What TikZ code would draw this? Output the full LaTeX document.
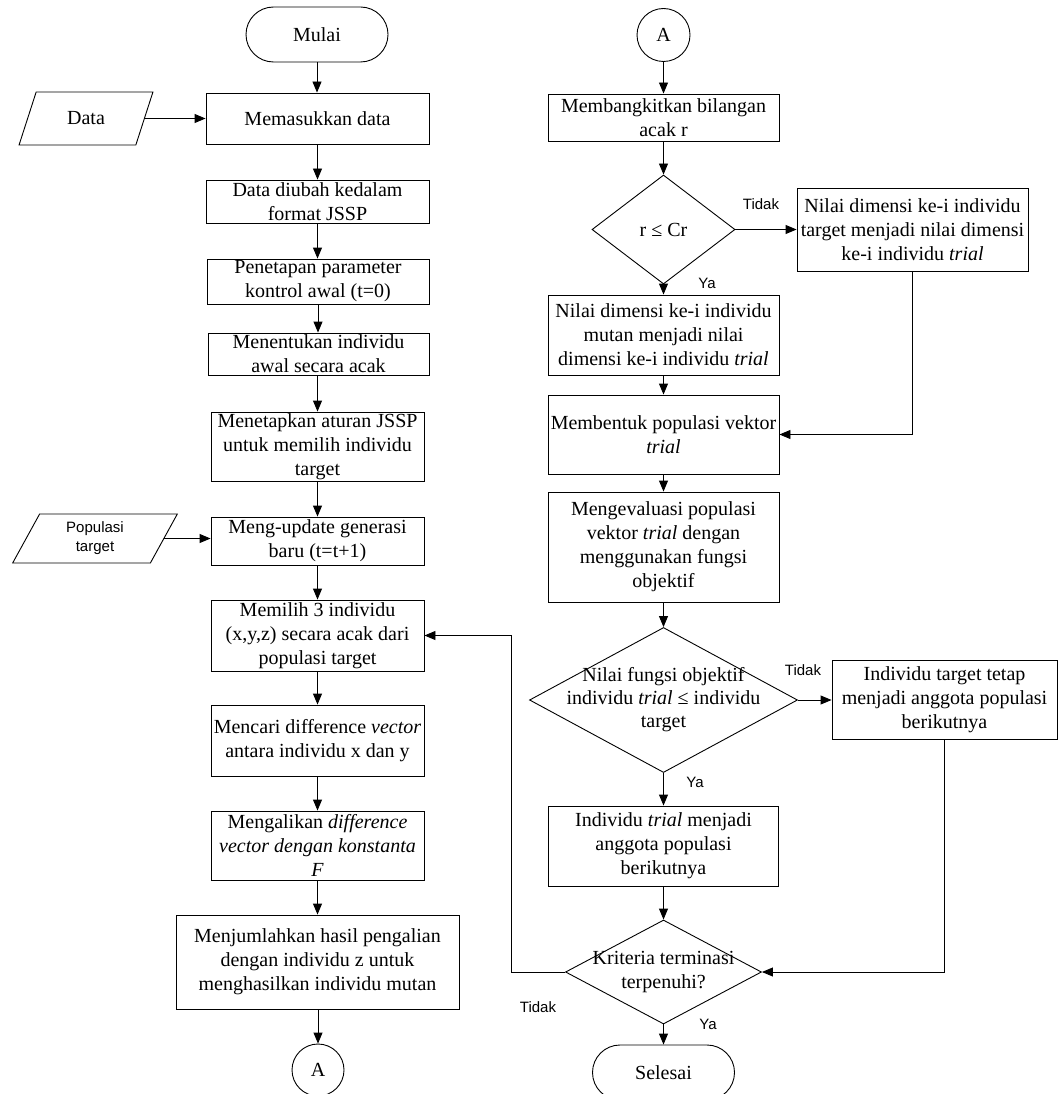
\documentclass[tikz,border=0pt]{standalone}
\usepackage{fontspec}
\setmainfont{Liberation Serif}
\newfontfamily\lsans{Liberation Sans}
\usetikzlibrary{arrows.meta,shapes.geometric,shapes.misc}
\begin{document}
\begin{tikzpicture}[x=1pt,y=-1pt,
  every node/.style={font=\fontsize{20}{24}\selectfont},
  box/.style={draw,rectangle,line width=0.9pt,inner sep=0pt,align=center},
  term/.style={draw,rounded rectangle,line width=0.9pt,inner sep=0pt,minimum width=142pt,minimum height=55pt},
  conn/.style={draw,circle,line width=0.9pt,inner sep=0pt,minimum size=52pt},
  dia/.style={draw,diamond,line width=0.9pt,inner sep=0pt},
  para/.style={draw,trapezium,trapezium stretches=true,line width=0.9pt,inner sep=0pt,align=center},
  lbl/.style={font=\lsans\fontsize{15}{18}\selectfont,inner sep=0pt},
  arr/.style={line width=0.9pt,-{Triangle[length=11pt,width=9pt]}},
  ln/.style={line width=0.9pt}]
\useasboundingbox (0,0) rectangle (1059,1094);

% ---------- left column ----------
\node[term] (mulai) at (317,34.5) {Mulai};
\node[box,minimum width=223pt,minimum height=51pt] (mem) at (317.5,118.5) {Memasukkan data};
\node[para,trapezium left angle=64,trapezium right angle=116,minimum width=134pt,minimum height=53pt] (data) at (86,118.5) {Data};
\node[box,minimum width=223pt,minimum height=43pt] (diubah) at (317.5,201.5) {Data diubah kedalam\\format JSSP};
\node[box,minimum width=222pt,minimum height=45pt] (penet) at (318,281.5) {Penetapan parameter\\kontrol awal (t=0)};
\node[box,minimum width=221pt,minimum height=42pt] (menent) at (318.5,354) {Menentukan individu\\awal secara acak};
\node[box,minimum width=213pt,minimum height=69pt] (menetap) at (317.5,446.5) {Menetapkan aturan JSSP\\untuk memilih individu\\target};
\node[box,minimum width=213pt,minimum height=48pt] (update) at (317.5,541) {Meng-update generasi\\baru (t=t+1)};
\node[para,trapezium left angle=67,trapezium right angle=113,minimum width=166pt,minimum height=49pt,font=\lsans\fontsize{15}{19}\selectfont] (pop) at (95,538.5) {Populasi\\target};
\node[box,minimum width=213pt,minimum height=71pt] (memilih) at (317.5,635.5) {Memilih 3 individu\\(x,y,z) secara acak dari\\populasi target};
\node[box,minimum width=213pt,minimum height=71pt] (mencari) at (317.5,740.5) {Mencari difference \textit{vector}\\antara individu x dan y};
\node[box,minimum width=213pt,minimum height=69pt] (mengali) at (317.5,845.5) {Mengalikan \textit{difference}\\\textit{vector dengan konstanta}\\\textit{F}};
\node[box,minimum width=283pt,minimum height=94pt] (menjum) at (317.5,962) {Menjumlahkan hasil pengalian\\dengan individu z untuk\\menghasilkan individu mutan};
\node[conn] (a1) at (318,1070) {A};

% ---------- right column ----------
\node[conn,minimum size=53pt] (a2) at (663.5,35) {A};
\node[box,minimum width=231pt,minimum height=47pt] (bangkit) at (663.5,117.5) {Membangkitkan bilangan\\acak r};
\node[dia,minimum width=143pt,minimum height=109pt] (d1) at (663.5,229.5) {};
\node[inner sep=0pt] (d1t) at (d1) {r ≤ Cr};
\node[box,minimum width=231pt,minimum height=83pt] (nilaiT) at (912.5,229.5) {Nilai dimensi ke-i individu\\target menjadi nilai dimensi\\ke-i individu \textit{trial}};
\node[box,minimum width=231pt,minimum height=80pt] (nilaiM) at (663.5,335) {Nilai dimensi ke-i individu\\mutan menjadi nilai\\dimensi ke-i individu \textit{trial}};
\node[box,minimum width=231pt,minimum height=79pt] (bentuk) at (663.5,434.5) {Membentuk populasi vektor\\\textit{trial}};
\node[box,minimum width=231pt,minimum height=110pt] (evaluasi) at (663.5,547) {Mengevaluasi populasi\\vektor \textit{trial} dengan\\menggunakan fungsi\\objektif};
\node[dia,minimum width=268pt,minimum height=145pt] (d2) at (663.5,700) {};
\node[inner sep=0pt,align=center,font=\fontsize{20}{23}\selectfont] (d2t) at (d2) {Nilai fungsi objektif\\individu \textit{trial} ≤ individu\\target};
\node[box,minimum width=225pt,minimum height=79pt] (tetap) at (944.5,699.5) {Individu target tetap\\menjadi anggota populasi\\berikutnya};
\node[box,minimum width=230pt,minimum height=80pt] (trialbox) at (663.5,846) {Individu \textit{trial} menjadi\\anggota populasi\\berikutnya};
\node[dia,minimum width=196pt,minimum height=104pt] (d3) at (663.5,972) {};
\node[inner sep=0pt,align=center] (d3t) at (d3) {Kriteria terminasi\\terpenuhi?};
\node[term] (selesai) at (663.5,1072.5) {Selesai};

% ---------- labels ----------
\node[lbl] (t1) at (761,204) {Tidak};
\node[lbl] (y1) at (707,283) {Ya};
\node[lbl] (t2) at (803,670) {Tidak};
\node[lbl] (y2) at (695,782) {Ya};
\node[lbl] (t3) at (538,1007) {Tidak};
\node[lbl] (y3) at (708,1024) {Ya};

% ---------- connectors left ----------
\draw[arr] (mulai.south) -- (mulai.south |- mem.north);
\draw[arr] (data.east) -- (mem.west);
\draw[arr] (mem.south) -- (mem.south |- diubah.north);
\draw[arr] (diubah.south) -- (diubah.south |- penet.north);
\draw[arr] (penet.south) -- (penet.south |- menent.north);
\draw[arr] (menent.south -| menetap.north) -- (menetap.north);
\draw[arr] (menetap.south) -- (update.north);
\draw[arr] (pop.east) -- (pop.east -| update.west);
\draw[arr] (update.south) -- (memilih.north);
\draw[arr] (memilih.south) -- (mencari.north);
\draw[arr] (mencari.south) -- (mengali.north);
\draw[arr] (mengali.south) -- (menjum.north);
\draw[arr] (menjum.south -| a1.north) -- (a1.north);

% ---------- connectors right ----------
\draw[arr] (a2.south) -- (bangkit.north);
\draw[arr] (bangkit.south) -- (d1.north);
\draw[arr] (d1.east) -- (nilaiT.west);
\draw[arr] (d1.south) -- (nilaiM.north);
\draw[arr] (nilaiM.south) -- (bentuk.north);
\draw[arr] (nilaiT.south) |- (bentuk.east);
\draw[arr] (bentuk.south) -- (evaluasi.north);
\draw[arr] (evaluasi.south) -- (d2.north);
\draw[arr] (d2.east) -- (d2.east -| tetap.west);
\draw[arr] (d2.south) -- (trialbox.north);
\draw[arr] (trialbox.south) -- (d3.north);
\draw[arr] (tetap.south) |- (d3.east);
\draw[arr] (d3.west) -- ++(-54,0) |- (memilih.east);
\draw[arr] (d3.south) -- (selesai.north);
\end{tikzpicture}
\end{document}
